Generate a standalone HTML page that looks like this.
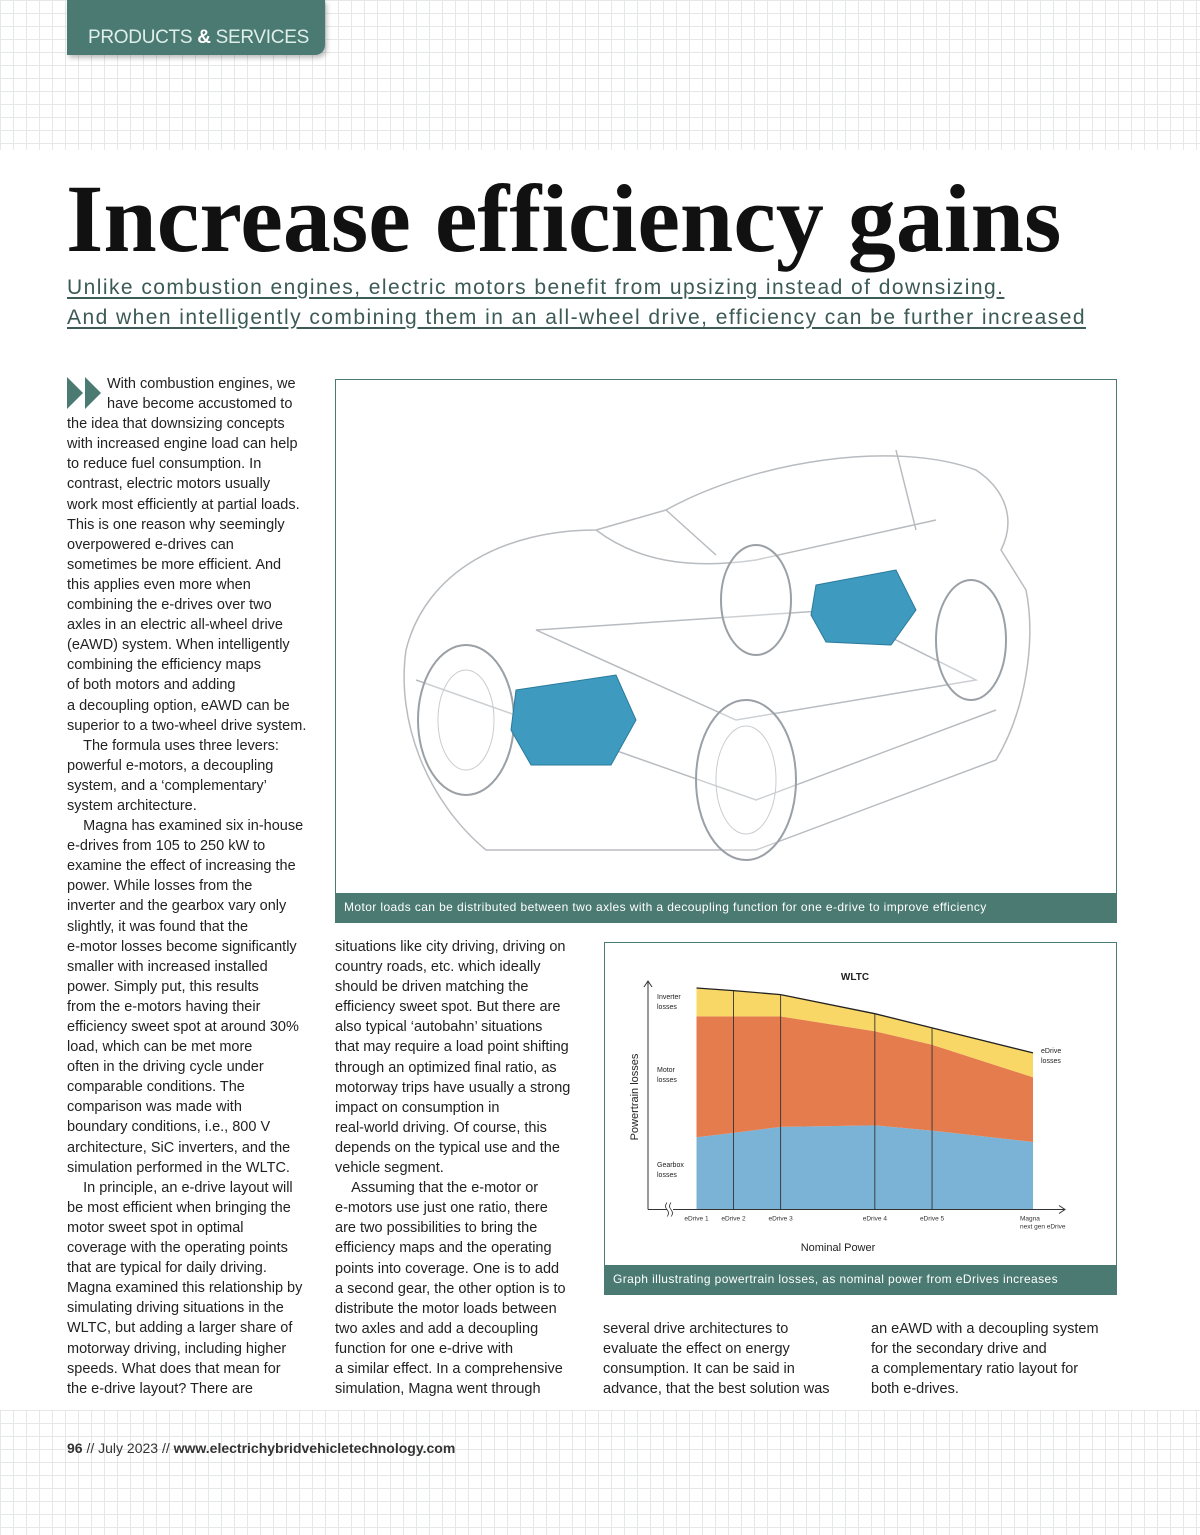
<!DOCTYPE html>
<html><head><meta charset="utf-8">
<style>
*{margin:0;padding:0;box-sizing:border-box}
body{width:1200px;height:1535px;position:relative;background:#fff;font-family:"Liberation Sans",sans-serif;overflow:hidden;color:#222}
.grid{position:absolute;left:0;width:1200px;background-image:linear-gradient(#e6e8e8 1px,transparent 1px),linear-gradient(90deg,#e6e8e8 1px,transparent 1px);background-size:13px 13px}
.tab{position:absolute;left:67px;top:0;width:258px;height:55px;background:#4a7a72;border-radius:0 0 10px 0;box-shadow:2px 3px 5px rgba(0,0,0,.25);color:#dfeeea;font-size:19px;padding:27px 0 0 21px;letter-spacing:-.3px;white-space:nowrap}
h1{position:absolute;left:66px;top:163px;font-family:"Liberation Serif",serif;font-weight:bold;font-size:96px;letter-spacing:0;color:#111;white-space:nowrap}
.sub{position:absolute;left:67px;font-size:21px;color:#3c5a56;text-decoration:underline;text-underline-offset:3px;white-space:nowrap;letter-spacing:1.45px}
.col{position:absolute;font-size:14.5px;line-height:20.1px;color:#222}
.col div{white-space:nowrap}
.box{position:absolute;border:1px solid #4a7a72;background:#fff}
.cap{position:absolute;left:0;right:0;bottom:0;height:29px;background:#4a7a72;color:#fff;font-size:12px;padding:7px 0 0 8px;letter-spacing:.4px;white-space:nowrap}
.foot{position:absolute;left:67px;top:1440px;font-size:14px;color:#333}
</style></head><body>
<div class="grid" style="top:0;height:150px"></div>
<div class="grid" style="top:1410px;height:125px"></div>
<div class="tab">PRODUCTS <b style="color:#fff">&amp;</b> SERVICES</div>
<h1>Increase efficiency gains</h1>
<div class="sub" style="top:276px">Unlike combustion engines, electric motors benefit from upsizing instead of downsizing.</div>
<div class="sub" style="top:306px">And when intelligently combining them in an all-wheel drive, efficiency can be further increased</div>

<svg style="position:absolute;left:67px;top:377px" width="38" height="32"><polygon points="0,0 16,16 0,32" fill="#4a7a72"/><polygon points="18,0 34,16 18,32" fill="#4a7a72"/></svg>

<div class="col" style="left:67px;top:374px">
<div style="padding-left:40px">With combustion engines, we</div>
<div style="padding-left:40px">have become accustomed to</div>
<div>the idea that downsizing concepts</div>
<div>with increased engine load can help</div>
<div>to reduce fuel consumption. In</div>
<div>contrast, electric motors usually</div>
<div>work most efficiently at partial loads.</div>
<div>This is one reason why seemingly</div>
<div>overpowered e-drives can</div>
<div>sometimes be more efficient. And</div>
<div>this applies even more when</div>
<div>combining the e-drives over two</div>
<div>axles in an electric all-wheel drive</div>
<div>(eAWD) system. When intelligently</div>
<div>combining the efficiency maps</div>
<div>of both motors and adding</div>
<div>a decoupling option, eAWD can be</div>
<div>superior to a two-wheel drive system.</div>
<div>&nbsp;&nbsp;&nbsp;&nbsp;The formula uses three levers:</div>
<div>powerful e-motors, a decoupling</div>
<div>system, and a ‘complementary’</div>
<div>system architecture.</div>
<div>&nbsp;&nbsp;&nbsp;&nbsp;Magna has examined six in-house</div>
<div>e-drives from 105 to 250 kW to</div>
<div>examine the effect of increasing the</div>
<div>power. While losses from the</div>
<div>inverter and the gearbox vary only</div>
<div>slightly, it was found that the</div>
<div>e-motor losses become significantly</div>
<div>smaller with increased installed</div>
<div>power. Simply put, this results</div>
<div>from the e-motors having their</div>
<div>efficiency sweet spot at around 30%</div>
<div>load, which can be met more</div>
<div>often in the driving cycle under</div>
<div>comparable conditions. The</div>
<div>comparison was made with</div>
<div>boundary conditions, i.e., 800 V</div>
<div>architecture, SiC inverters, and the</div>
<div>simulation performed in the WLTC.</div>
<div>&nbsp;&nbsp;&nbsp;&nbsp;In principle, an e-drive layout will</div>
<div>be most efficient when bringing the</div>
<div>motor sweet spot in optimal</div>
<div>coverage with the operating points</div>
<div>that are typical for daily driving.</div>
<div>Magna examined this relationship by</div>
<div>simulating driving situations in the</div>
<div>WLTC, but adding a larger share of</div>
<div>motorway driving, including higher</div>
<div>speeds. What does that mean for</div>
<div>the e-drive layout? There are</div>
</div>

<div class="col" style="left:335px;top:937px">
<div>situations like city driving, driving on</div>
<div>country roads, etc. which ideally</div>
<div>should be driven matching the</div>
<div>efficiency sweet spot. But there are</div>
<div>also typical ‘autobahn’ situations</div>
<div>that may require a load point shifting</div>
<div>through an optimized final ratio, as</div>
<div>motorway trips have usually a strong</div>
<div>impact on consumption in</div>
<div>real-world driving. Of course, this</div>
<div>depends on the typical use and the</div>
<div>vehicle segment.</div>
<div>&nbsp;&nbsp;&nbsp;&nbsp;Assuming that the e-motor or</div>
<div>e-motors use just one ratio, there</div>
<div>are two possibilities to bring the</div>
<div>efficiency maps and the operating</div>
<div>points into coverage. One is to add</div>
<div>a second gear, the other option is to</div>
<div>distribute the motor loads between</div>
<div>two axles and add a decoupling</div>
<div>function for one e-drive with</div>
<div>a similar effect. In a comprehensive</div>
<div>simulation, Magna went through</div>
</div>
<div class="col" style="left:603px;top:1319px">
<div>several drive architectures to</div>
<div>evaluate the effect on energy</div>
<div>consumption. It can be said in</div>
<div>advance, that the best solution was</div>
</div>
<div class="col" style="left:871px;top:1319px">
<div>an eAWD with a decoupling system</div>
<div>for the secondary drive and</div>
<div>a complementary ratio layout for</div>
<div>both e-drives.</div>
</div>

<div class="box" style="left:335px;top:379px;width:782px;height:544px">
<svg width="780" height="514" style="position:absolute;left:0;top:0">
<g fill="none" stroke="#b8bcc0" stroke-width="1.5">
<path d="M70,270 C90,190 170,150 260,150 L330,130 C420,80 560,60 640,90 C670,110 680,140 665,170 L690,210 C700,260 690,330 660,380 L420,470 L150,470 C90,420 60,340 70,270Z"/>
<path d="M260,150 C300,180 350,190 420,180 L600,140"/>
<path d="M330,130 L380,175 M560,70 L580,150"/>
<path d="M80,300 L420,420 L660,330"/>
<path d="M200,250 L500,230 L640,300 L400,340 Z"/>
</g>
<g fill="rgba(255,255,255,.3)" stroke="#9aa0a5" stroke-width="2">
<ellipse cx="130" cy="340" rx="48" ry="75"/>
<ellipse cx="410" cy="400" rx="50" ry="80"/>
<ellipse cx="420" cy="220" rx="35" ry="55"/>
<ellipse cx="635" cy="260" rx="35" ry="60"/>
</g>
<g fill="none" stroke="#c8ccd0"><ellipse cx="130" cy="340" rx="28" ry="50"/><ellipse cx="410" cy="400" rx="30" ry="54"/></g>
<polygon points="180,310 280,295 300,340 275,385 195,385 175,350" fill="#3e9bbf" stroke="#2a7a9c"/>
<polygon points="480,205 560,190 580,230 555,265 490,262 475,235" fill="#3e9bbf" stroke="#2a7a9c"/>
</svg>
<div class="cap">Motor loads can be distributed between two axles with a decoupling function for one e-drive to improve efficiency</div>
</div>

<div class="box" style="left:604px;top:942px;width:513px;height:353px">
<svg id="chart" width="511" height="322" style="position:absolute;left:0;top:0;font-family:'Liberation Sans',sans-serif"></svg>
<div class="cap">Graph illustrating powertrain losses, as nominal power from eDrives increases</div>
</div>

<div class="foot"><b>96</b> // July 2023 // <b style="font-weight:600">www.electrichybridvehicletechnology.com</b></div>

<script>
const categories=["eDrive 1","eDrive 2","eDrive 3","eDrive 4","eDrive 5","Magna next gen eDrive"];
const nominalPower=[0,0.11,0.25,0.53,0.70,1.0];
const gearboxLosses=[32.6,34.6,37.3,38.0,35.6,30.5];
const motorLosses=[54.6,52.6,49.9,42.5,38.8,29.2];
const inverterLosses=[12.8,11.6,9.8,7.9,7.6,11.0];
const NS="http://www.w3.org/2000/svg";
const chartSvg=document.getElementById('chart');
const X0=91.5,X1=428,Y0=266.5,Y100=45;
function xs(p){return X0+p*(X1-X0);}
function ys(v){return Y0-v*(Y0-Y100)/100;}
function mk(t,a){const e=document.createElementNS(NS,t);for(const k in a)e.setAttribute(k,a[k]);chartSvg.appendChild(e);return e;}
const c1=gearboxLosses.map(g=>g);
const c2=gearboxLosses.map((g,i)=>g+motorLosses[i]);
const c3=c2.map((v,i)=>v+inverterLosses[i]);
function band(lo,hi){let d='';hi.forEach((v,i)=>{d+=(i?'L':'M')+xs(nominalPower[i])+','+ys(v);});for(let i=lo.length-1;i>=0;i--)d+='L'+xs(nominalPower[i])+','+ys(lo[i]);return d+'Z';}
const zero=gearboxLosses.map(()=>0);
let p=mk('path',{d:band(zero,c1),fill:'#7bb3d6'});


p=mk('path',{d:band(c1,c2),fill:'#e57c4e'});


p=mk('path',{d:band(c2,c3),fill:'#f9d766'});


let topPath='';c3.forEach((v,i)=>{topPath+=(i?'L':'M')+xs(nominalPower[i])+','+ys(v);});
p=mk('path',{d:topPath,fill:'none',stroke:'#222','stroke-width':1.3});


categories.forEach((c,i)=>{
 const x=xs(nominalPower[i]);
 const isMagna=c.startsWith('Magna');
 if(i>0&&!isMagna){const l=mk('line',{x1:x,x2:x,y1:ys(c3[i]),y2:Y0,stroke:'#333','stroke-width':0.9});
 
 }
 const parts=isMagna?['Magna','next gen eDrive']:[c];
 parts.forEach((s,j)=>{const t=mk('text',{x:isMagna?x-13:x,y:Y0+11+j*8,'font-size':6.5,'text-anchor':isMagna?'start':'middle',fill:'#333'});t.textContent=s;
 
 });
});
let ax=mk('path',{d:`M43,${Y0} L43,38 M39,44 L43,38 L47,44 M43,${Y0} L62,${Y0} M68,${Y0} L460,${Y0} M454,${Y0-4} L460,${Y0} L454,${Y0+4}`,fill:'none',stroke:'#333','stroke-width':1});


ax=mk('path',{d:`M62,${Y0-7} q-3,4 0,7 q3,4 0,7 M66,${Y0-7} q-3,4 0,7 q3,4 0,7`,fill:'none',stroke:'#333','stroke-width':0.8});


function txt(s,x,y,fs,name,extra){const t=mk('text',Object.assign({x:x,y:y,'font-size':fs,fill:'#222'},extra||{}));t.textContent=s;
 
 return t;}
txt('WLTC',250,37,10,'chart-title',{'font-weight':'bold','text-anchor':'middle'});
txt('Nominal Power',233,308,11,'x-axis-title',{'text-anchor':'middle'});
txt('Powertrain losses',33,154,11,'y-axis-title',{'text-anchor':'middle',transform:'rotate(-90 33 154)'});
[['Inverter',56],['losses',66],['Motor',129],['losses',139],['Gearbox',224],['losses',234]].forEach(r=>txt(r[0],52,r[1],7,'area-label'));
txt('eDrive',436,110,7,'area-label');txt('losses',436,120,7,'area-label');
</script>
</body></html>
